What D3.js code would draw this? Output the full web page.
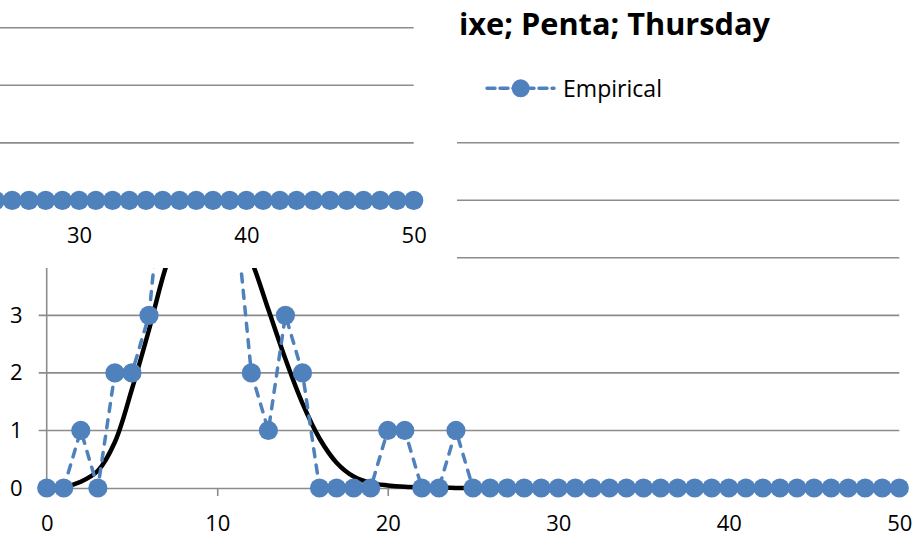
<!DOCTYPE html>
<html>
<head>
<meta charset="utf-8">
<script src="https://cdn.jsdelivr.net/npm/d3@7"></script>
<style>
  html, body { margin: 0; padding: 0; background: #fff; }
  svg { display: block; font-family: "Open Sans", "Noto Sans", sans-serif; }
</style>
</head>
<body>
<svg id="chart" width="914" height="548"></svg>
<script>
// ---------- data ----------
const xValues = [0,1,2,3,4,5,6,7,8,9,10,11,12,13,14,15,16,17,18,19,20,21,22,23,24,25,
                 26,27,28,29,30,31,32,33,34,35,36,37,38,39,40,41,42,43,44,45,46,47,48,49,50];
const empirical = [0,0,1,0,2,2,3,6,7,5,6,5,2,1,3,2,0,0,0,0,1,1,0,0,1,0,
                   0,0,0,0,0,0,0,0,0,0,0,0,0,0,0,0,0,0,0,0,0,0,0,0,0];
const theoretical = [0,0.02,0.11,0.3,0.8,1.72,2.75,3.85,4.6,5.0,4.95,4.55,3.95,3.1,2.24,1.47,0.86,0.44,0.2,0.09,0.045,0.02,0.01,0.004,0.002,0,
                     0,0,0,0,0,0,0,0,0,0,0,0,0,0,0,0,0,0,0,0,0,0,0,0,0];
const xTicks = [0,10,20,30,40,50];
const yTicks = [0,1,2,3,4,5,6];
const gridValues = [1,2,3,4,5,6];
const titleText = "ixe; Penta; Thursday";
const legendLabel = "Empirical";

// ---------- style ----------
const BLUE = "#4F81BD";
const GRID = "#8c8c8c";

const svg = d3.select("#chart");

function drawChart(g, x, y, opts) {
  // gridlines (with outward tick)
  g.append("g").selectAll("line").data(gridValues).join("line")
    .attr("x1", x(0) - 8).attr("x2", x(50))
    .attr("y1", d => y(d)).attr("y2", d => y(d))
    .attr("stroke", GRID).attr("stroke-width", 1.6);

  // y axis labels
  if (opts.yLabels) {
    const yAxis = d3.axisLeft(y).tickValues(yTicks).tickSize(0).tickPadding(0).tickFormat(d3.format("d"));
    const ya = g.append("g").attr("transform", `translate(${x(0) - 24},0)`).call(yAxis);
    ya.select(".domain").remove();
    ya.selectAll("text").attr("font-size", 22).attr("fill", "#000").attr("font-family", "Open Sans");
  }

  // y axis line
  g.append("line").attr("x1", x(0)).attr("x2", x(0))
    .attr("y1", y(6)).attr("y2", y(0))
    .attr("stroke", GRID).attr("stroke-width", 1.6);
  g.append("line").attr("x1", x(0) - 8).attr("x2", x(0))
    .attr("y1", y(0)).attr("y2", y(0))
    .attr("stroke", GRID).attr("stroke-width", 1.6);

  // x axis
  const shownX = xTicks.filter(v => x(v) >= 0);
  const xAxis = d3.axisBottom(x).tickValues(shownX).tickSize(8).tickPadding(19).tickFormat(d3.format("d"));
  const xa = g.append("g").attr("transform", `translate(0,${y(0)})`).call(xAxis);
  xa.select(".domain").attr("stroke", GRID).attr("stroke-width", 1.6);
  xa.selectAll(".tick line").attr("stroke", GRID).attr("stroke-width", 1.6);
  xa.selectAll("text").attr("font-size", 22).attr("fill", "#000").attr("font-family", "Open Sans");

  const plot = g.append("g").attr("clip-path", opts.clip);

  // theoretical curve (smoothed)
  const lineT = d3.line().x((d, i) => x(xValues[i])).y(d => y(d)).curve(d3.curveCatmullRom.alpha(0.5));
  plot.append("path").datum(theoretical)
    .attr("d", lineT).attr("fill", "none")
    .attr("stroke", "#000").attr("stroke-width", 4.5).attr("stroke-linejoin", "round");

  // empirical dashed
  const lineE = d3.line().x((d, i) => x(xValues[i])).y(d => y(d));
  plot.append("path").datum(empirical)
    .attr("d", lineE).attr("fill", "none")
    .attr("stroke", BLUE).attr("stroke-width", 3.5)
    .attr("stroke-dasharray", "8,8.5").attr("stroke-linecap", "round");

  plot.append("g").selectAll("circle").data(empirical).join("circle")
    .attr("cx", (d, i) => x(xValues[i])).attr("cy", d => y(d))
    .attr("r", 9.6).attr("fill", BLUE);
}

const defs = svg.append("defs");
defs.append("clipPath").attr("id", "mainClip").append("rect")
  .attr("x", 0).attr("y", 140).attr("width", 914).attr("height", 408);
defs.append("clipPath").attr("id", "overlayClip").append("rect")
  .attr("x", 0).attr("y", 0).attr("width", 457).attr("height", 268);

// ---------- main chart ----------
const xMain = d3.scaleLinear().domain([0, 50]).range([46.7, 899.3]);
const yMain = d3.scaleLinear().domain([0, 6]).range([488, 142.7]);
const mainG = svg.append("g");
drawChart(mainG, xMain, yMain, { clip: "url(#mainClip)", yLabels: true });

// title
svg.append("text")
  .attr("x", 459).attr("y", 34.5)
  .attr("font-size", 30).attr("font-weight", "bold")
  .attr("textLength", 311).attr("lengthAdjust", "spacingAndGlyphs")
  .attr("fill", "#000")
  .text(titleText);

// legend
const lg = svg.append("g");
lg.append("line").attr("x1", 487).attr("x2", 554).attr("y1", 88.3).attr("y2", 88.3)
  .attr("stroke", BLUE).attr("stroke-width", 3.5)
  .attr("stroke-dasharray", "8,5").attr("stroke-linecap", "round");
lg.append("circle").attr("cx", 520.7).attr("cy", 88.3).attr("r", 9).attr("fill", BLUE);
lg.append("text").attr("x", 563).attr("y", 97).attr("font-size", 23)
  .attr("textLength", 99).attr("lengthAdjust", "spacingAndGlyphs")
  .attr("fill", "#000").text(legendLabel);

// ---------- overlapping shifted copy (top-left) ----------
svg.append("rect").attr("x", 0).attr("y", 0).attr("width", 457).attr("height", 268).attr("fill", "#fff");
const xCopy = d3.scaleLinear().domain([0, 50]).range([413.7 - 50 * 16.73, 413.7]);
const yCopy = d3.scaleLinear().domain([0, 6]).range([200.4, 200.4 - 6 * 57.55]);
const copyG = svg.append("g").attr("clip-path", "url(#overlayClip)");
drawChart(copyG, xCopy, yCopy, { clip: null, yLabels: false });
</script>
</body>
</html>
